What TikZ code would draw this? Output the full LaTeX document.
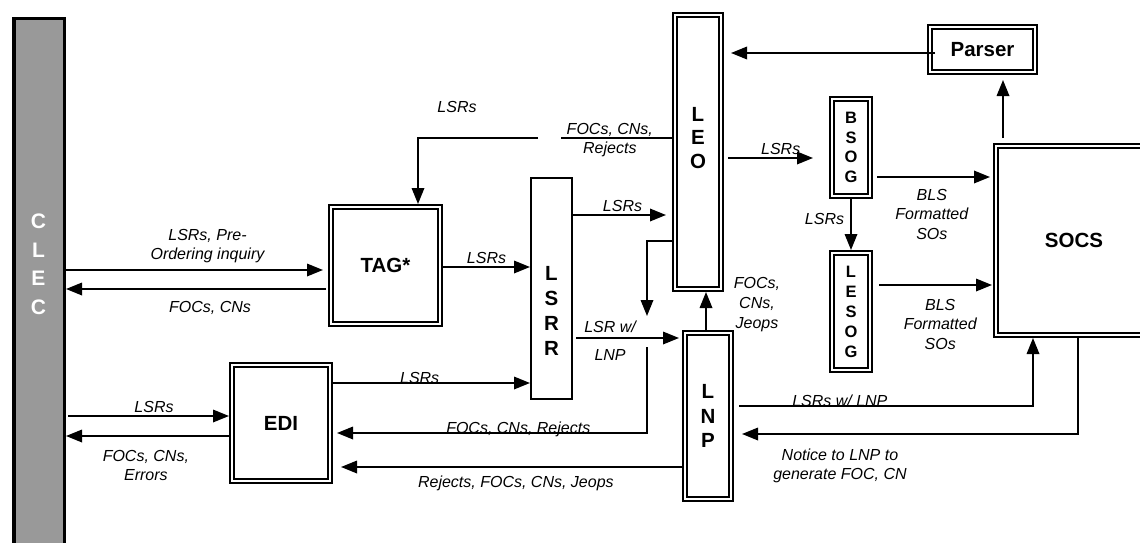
\documentclass[tikz,border=0pt]{standalone}
\usepackage{fontspec}
\setmainfont{Liberation Sans}
\usetikzlibrary{arrows.meta}

\definecolor{clecgray}{gray}{0.6}

\begin{document}
\begin{tikzpicture}[x=1pt, y=-1pt,
        dbox/.style={draw, line width=1.8pt, double, double distance=2pt, outer sep=2.8pt,
                     inner sep=0pt, align=center, font=\bfseries\fontsize{20.5}{24}\selectfont},
        sbox/.style={draw, line width=2pt, inner sep=0pt},
        vtxt/.style={align=center, inner sep=0pt, font=\bfseries\fontsize{20.5}{24}\selectfont},
        arr/.style={-{Triangle[length=16pt,width=12.5pt]}, line width=1.8pt},
        lab/.style={font=\itshape\fontsize{16}{19.5}\selectfont, align=center, inner sep=2pt}]
      \clip (0,0) rectangle (1140,543);

      % boxes
      \node[draw, line width=3.5pt, fill=clecgray, minimum width=50.5pt, minimum height=551pt] (clec) at (39,294.25) {};
      \node[vtxt, text=white, font=\bfseries\fontsize{21}{28.5}\selectfont] (clecTxt) at (38.5,264.5) {C\\L\\E\\C};
      \node[dbox, minimum width=109.4pt, minimum height=117.4pt] (tag) at (385.5,265.5) {TAG*};
      \node[dbox, minimum width=98.4pt, minimum height=116.4pt] (edi) at (281,423) {EDI};
      \node[sbox, minimum width=41pt, minimum height=221pt] (lsrr) at (551.5,288.5) {};
      \node[vtxt, font=\bfseries\fontsize{20.5}{25}\selectfont] (lsrrTxt) at (551.5,311) {L\\S\\R\\R};
      \node[dbox, minimum width=46.4pt, minimum height=274.4pt] (leo) at (698,152) {};
      \node[vtxt, font=\bfseries\fontsize{20.5}{23.5}\selectfont] (leoTxt) at (698,138) {L\\E\\O};
      \node[dbox, minimum width=46.4pt, minimum height=166.4pt, font=\bfseries\fontsize{20.5}{24.7}\selectfont] (lnp) at (708,416) {L\\N\\P};
      \node[dbox, minimum width=105.4pt, minimum height=45.4pt] (parser) at (982.5,49.5) {Parser};
      \node[dbox, minimum width=38.4pt, minimum height=97.4pt, font=\bfseries\fontsize{16.5}{19.7}\selectfont] (bsog) at (851,147.5) {B\\S\\O\\G};
      \node[dbox, minimum width=38.4pt, minimum height=117.4pt, font=\bfseries\fontsize{16.5}{20}\selectfont] (lesog) at (851,311.5) {L\\E\\S\\O\\G};
      \node[dbox, minimum width=156.4pt, minimum height=189.4pt] (socs) at (1074,240.5) {SOCS};

      % bends and breaks
      \coordinate (gapR) at (561,138);
      \coordinate (gapL) at (538,138);
      \coordinate (tagBend) at (418,138);
      \coordinate (leoDrop) at (647,316);
      \coordinate (ediRise) at (647,347);

      % CLEC side
      \draw[arr, shorten >=5pt] (clec.east |- 0,270) -- (tag.west |- 0,270)
        node[lab, above=4pt, pos=.54] {LSRs, Pre-\\Ordering inquiry};
      \draw[arr, shorten <=2pt] (tag.west |- 0,289) -- (clec.east |- 0,289)
        node[lab, below=9pt, pos=.45] {FOCs, CNs};
      \draw[arr, shorten <=2pt] (clec.east |- 0,416) -- (edi.west |- 0,416)
        node[lab, above, pos=.54] {LSRs};
      \draw[arr] (edi.west |- 0,436) -- (clec.east |- 0,436)
        node[lab, below=11pt, pos=.51] {FOCs, CNs,\\Errors};

      % into LSRR and LEO
      \draw[arr] (tag.east |- 0,267) -- (lsrr.west |- 0,267) node[lab, above, midway] {LSRs};
      \draw[arr] (edi.east |- 0,383) -- (lsrr.west |- 0,383) node[lab, anchor=base, pos=.44] {LSRs};
      \draw[arr, shorten >=6pt] (lsrr.east |- 0,215) -- (leo.west |- 0,215) node[lab, above, midway] {LSRs};
      \draw[arr, shorten <=3pt, shorten >=3pt] (lsrr.east |- 0,338) -- (lnp.west |- 0,338)
        node[lab, pos=.34, yshift=-2.5pt] {LSR w/\\[8.5pt]LNP};

      % back from LEO
      \draw[arr] (leo.west |- 0,138) -- (gapR) node[lab, pos=.56, yshift=-2pt] {FOCs, CNs,\\Rejects}
        (gapL) -- (tagBend) node[lab, above=22pt, pos=.675] {LSRs} -- (tagBend |- tag.north);
      \draw[arr] (leo.west |- 0,241) -| (leoDrop);
      \draw[arr, shorten >=4pt] (ediRise) |- (edi.east |- 0,433)
        node[lab, anchor=base, pos=.705] {FOCs, CNs, Rejects};

      % LNP
      \draw[arr, shorten >=8pt] (lnp.west |- 0,467) -- (edi.east |- 0,467)
        node[lab, below=6pt, pos=.476] {Rejects, FOCs, CNs, Jeops};
      \draw[arr] (lnp.north -| 706,0) -- (leo.south -| 706,0)
        node[lab, right=25pt, pos=.68] {FOCs,\\[0.5pt]CNs,\\[0.5pt]Jeops};
      \draw[arr, shorten <=5pt] (lnp.east |- 0,406) -| (socs.south -| 1033,0)
        node[lab, anchor=base, pos=.177] {LSRs w/ LNP};
      \draw[arr, shorten >=8pt] (socs.south -| 1078,0) |- (lnp.east |- 0,434)
        node[lab, below=12pt, pos=.846] {Notice to LNP to\\generate FOC, CN};

      % right side
      \draw[arr, shorten <=4pt, shorten >=16pt] (leo.east |- 0,158) -- (bsog.west |- 0,158)
        node[lab, above, pos=.54] {LSRs};
      \draw[arr] (bsog.south) -- (lesog.north) node[lab, left=4pt, pos=.39] {LSRs};
      \draw[arr, shorten <=4pt, shorten >=3pt] (bsog.east |- 0,177) -- (socs.west |- 0,177)
        node[lab, below=9pt, pos=.49] {BLS\\Formatted\\SOs};
      \draw[arr, shorten <=6pt, shorten >=1pt] (lesog.east |- 0,285) -- (socs.west |- 0,285)
        node[lab, below=11pt, pos=.56] {BLS\\Formatted\\SOs};
      \draw[arr, shorten <=5pt, shorten >=5pt] (socs.north -| 1003,0) -- (parser.south -| 1003,0);
      \draw[arr, shorten <=-8pt, shorten >=7pt] (parser.west |- 0,53) -- (leo.east |- 0,53);
    \end{tikzpicture}
\end{document}
